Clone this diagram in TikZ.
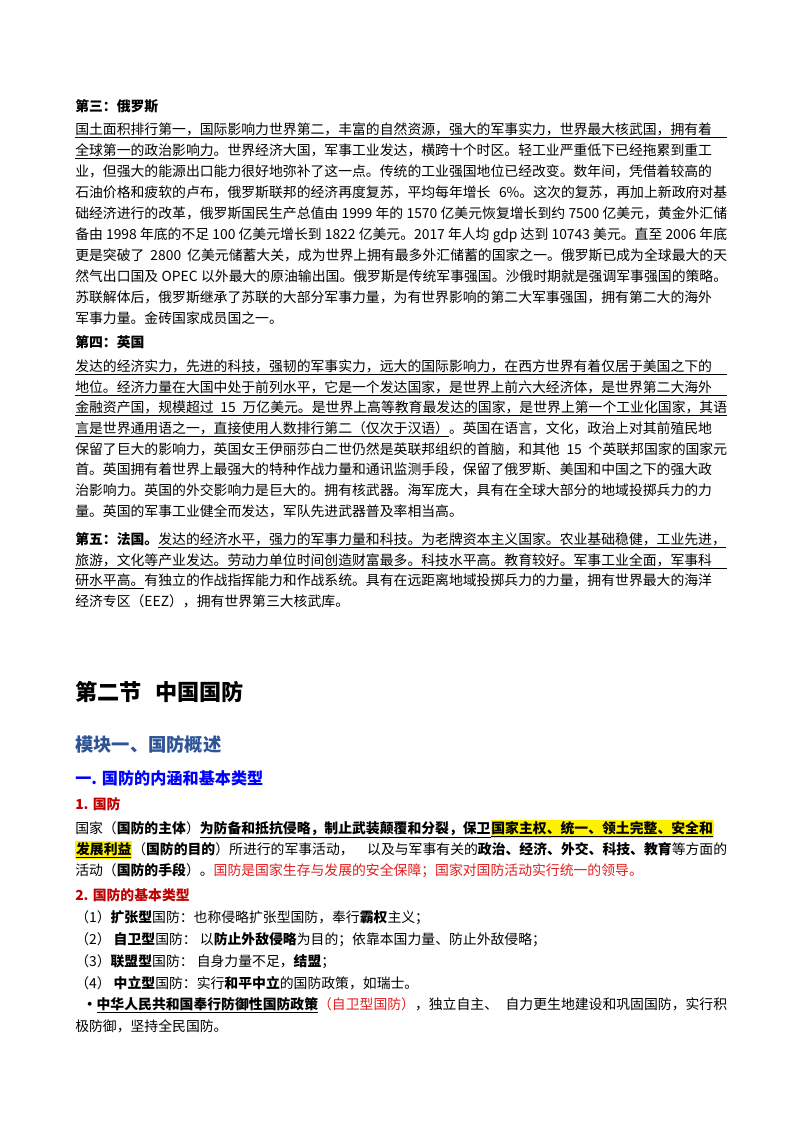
\documentclass[tikz,border=0pt]{standalone}
\usepackage{fontspec}
\setmainfont{Noto Sans CJK SC}
\XeTeXlinebreaklocale "zh"
\XeTeXlinebreakskip=0pt plus 2pt
\definecolor{hlblue}{RGB}{46,84,150}
\definecolor{pureblue}{RGB}{0,0,255}
\definecolor{darkred}{RGB}{192,0,0}
\definecolor{txtred}{RGB}{225,30,30}
\newcommand\Jline[3]{\node[anchor=base west,inner sep=0] at (#1,#2) {\hbox to 485pt{#3}};}
\newcommand\Lline[3]{\node[anchor=base west,inner sep=0] at (#1,#2) {#3};}
\newcommand\UJ[1]{\underline{\hbox to 485pt{#1}}}
\newcommand\hlt[1]{{\setlength{\fboxsep}{0.6pt}\colorbox{yellow}{#1}}}
\begin{document}
\begin{tikzpicture}[x=0.744pt,y=-0.744pt,every node/.style={font=\fontsize{10.3pt}{12pt}\selectfont}]
\useasboundingbox[fill=white] (0,0) rectangle (800,1132);
% Section 3
\Lline{75}{111}{\textbf{第三：俄罗斯}}
\Lline{75}{134}{\UJ{国土面积排行第一，国际影响力世界第二，丰富的自然资源，强大的军事实力，世界最大核武国，拥有着}}
\Jline{75}{155}{\underline{全球第一的政治影响力}。世界经济大国，军事工业发达，横跨十个时区。轻工业严重低下已经拖累到重工}
\Jline{75}{176}{业，但强大的能源出口能力很好地弥补了这一点。传统的工业强国地位已经改变。数年间，凭借着较高的}
\Jline{75}{197}{石油价格和疲软的卢布，俄罗斯联邦的经济再度复苏，平均每年增长 6\%。这次的复苏，再加上新政府对基}
\Jline{75}{218}{础经济进行的改革，俄罗斯国民生产总值由 1999 年的 1570 亿美元恢复增长到约 7500 亿美元，黄金外汇储}
\Jline{75}{239}{备由 1998 年底的不足 100 亿美元增长到 1822 亿美元。2017 年人均 gdp 达到 10743 美元。直至 2006 年底}
\Jline{75}{260}{更是突破了 2800 亿美元储蓄大关，成为世界上拥有最多外汇储蓄的国家之一。俄罗斯已成为全球最大的天}
\Jline{75}{281}{然气出口国及 OPEC 以外最大的原油输出国。俄罗斯是传统军事强国。沙俄时期就是强调军事强国的策略。}
\Jline{75}{302}{苏联解体后，俄罗斯继承了苏联的大部分军事力量，为有世界影响的第二大军事强国，拥有第二大的海外}
\Lline{75}{323}{军事力量。金砖国家成员国之一。}
% Section 4
\Lline{75}{347}{\textbf{第四：英国}}
\Lline{75}{371}{\UJ{发达的经济实力，先进的科技，强韧的军事实力，远大的国际影响力，在西方世界有着仅居于美国之下的}}
\Lline{75}{392}{\UJ{地位。经济力量在大国中处于前列水平，它是一个发达国家，是世界上前六大经济体，是世界第二大海外}}
\Lline{75}{412}{\UJ{金融资产国，规模超过 15 万亿美元。是世界上高等教育最发达的国家，是世界上第一个工业化国家，其语}}
\Jline{75}{433}{\underline{言是世界通用语之一，直接使用人数排行第二（仅次于汉语）}。英国在语言，文化，政治上对其前殖民地}
\Jline{75}{454}{保留了巨大的影响力，英国女王伊丽莎白二世仍然是英联邦组织的首脑，和其他 15 个英联邦国家的国家元}
\Jline{75}{474}{首。英国拥有着世界上最强大的特种作战力量和通讯监测手段，保留了俄罗斯、美国和中国之下的强大政}
\Jline{75}{495}{治影响力。英国的外交影响力是巨大的。拥有核武器。海军庞大，具有在全球大部分的地域投掷兵力的力}
\Lline{75}{516}{量。英国的军事工业健全而发达，军队先进武器普及率相当高。}
% Section 5
\Jline{75}{544}{\textbf{第五：法国。}\underline{发达的经济水平，强力的军事力量和科技。为老牌资本主义国家。农业基础稳健，工业先进，}}
\Lline{75}{565}{\UJ{旅游，文化等产业发达。劳动力单位时间创造财富最多。科技水平高。教育较好。军事工业全面，军事科}}
\Jline{75}{585}{\underline{研水平高。}有独立的作战指挥能力和作战系统。具有在远距离地域投掷兵力的力量，拥有世界最大的海洋}
\Lline{75}{606}{经济专区（EEZ），拥有世界第三大核武库。}
% Section 2
\node[anchor=base west,inner sep=0,font=\fontsize{16.5pt}{20pt}\selectfont] (sec) at (75,700) {\textbf{第二节\hspace{0.6em}中国国防}};
\node[anchor=base west,inner sep=0,font=\fontsize{13.6pt}{16pt}\selectfont,text=hlblue] (mod) at (75,751) {\textbf{模块一、国防概述}};
\node[anchor=base west,inner sep=0,font=\fontsize{12pt}{14pt}\selectfont,text=pureblue] (one) at (75,784) {\textbf{一. 国防的内涵和基本类型}};
\node[anchor=base west,inner sep=0,text=darkred] (n1) at (75,809) {\textbf{1. 国防}};
\Jline{75}{833}{国家（\textbf{国防的主体}）\textbf{\underline{为防备和抵抗侵略，制止武装颠覆和分裂，保卫}}\hlt{\textbf{\underline{国家主权、统一、领土完整、安全和}}}}
\Jline{75}{854}{\hlt{\textbf{\underline{发展利益}}}（\textbf{国防的目的}）所进行的军事活动， 以及与军事有关的\textbf{政治、经济、外交、科技、教育}等方面的}
\Lline{75}{875}{活动（\textbf{国防的手段}）。\textcolor{txtred}{国防是国家生存与发展的安全保障；国家对国防活动实行统一的领导。}}
\node[anchor=base west,inner sep=0,text=darkred] (n2) at (75,900) {\textbf{2. 国防的基本类型}};
\Lline{75}{922}{（1）\textbf{扩张型}国防：也称侵略扩张型国防，奉行\textbf{霸权}主义；}
\Lline{75}{944}{（2） \textbf{自卫型}国防： 以\textbf{防止外敌侵略}为目的；依靠本国力量、防止外敌侵略；}
\Lline{75}{966}{（3）\textbf{联盟型}国防： 自身力量不足，\textbf{结盟}；}
\Lline{75}{988}{（4） \textbf{中立型}国防：实行\textbf{和平中立}的国防政策，如瑞士。}
\Jline{75}{1009}{\ \textbf{・}\textbf{\underline{中华人民共和国奉行防御性国防政策}}\textcolor{txtred}{（自卫型国防）}，独立自主、 自力更生地建设和巩固国防，实行积}
\Lline{75}{1031}{极防御，坚持全民国防。}
\end{tikzpicture}
\end{document}
